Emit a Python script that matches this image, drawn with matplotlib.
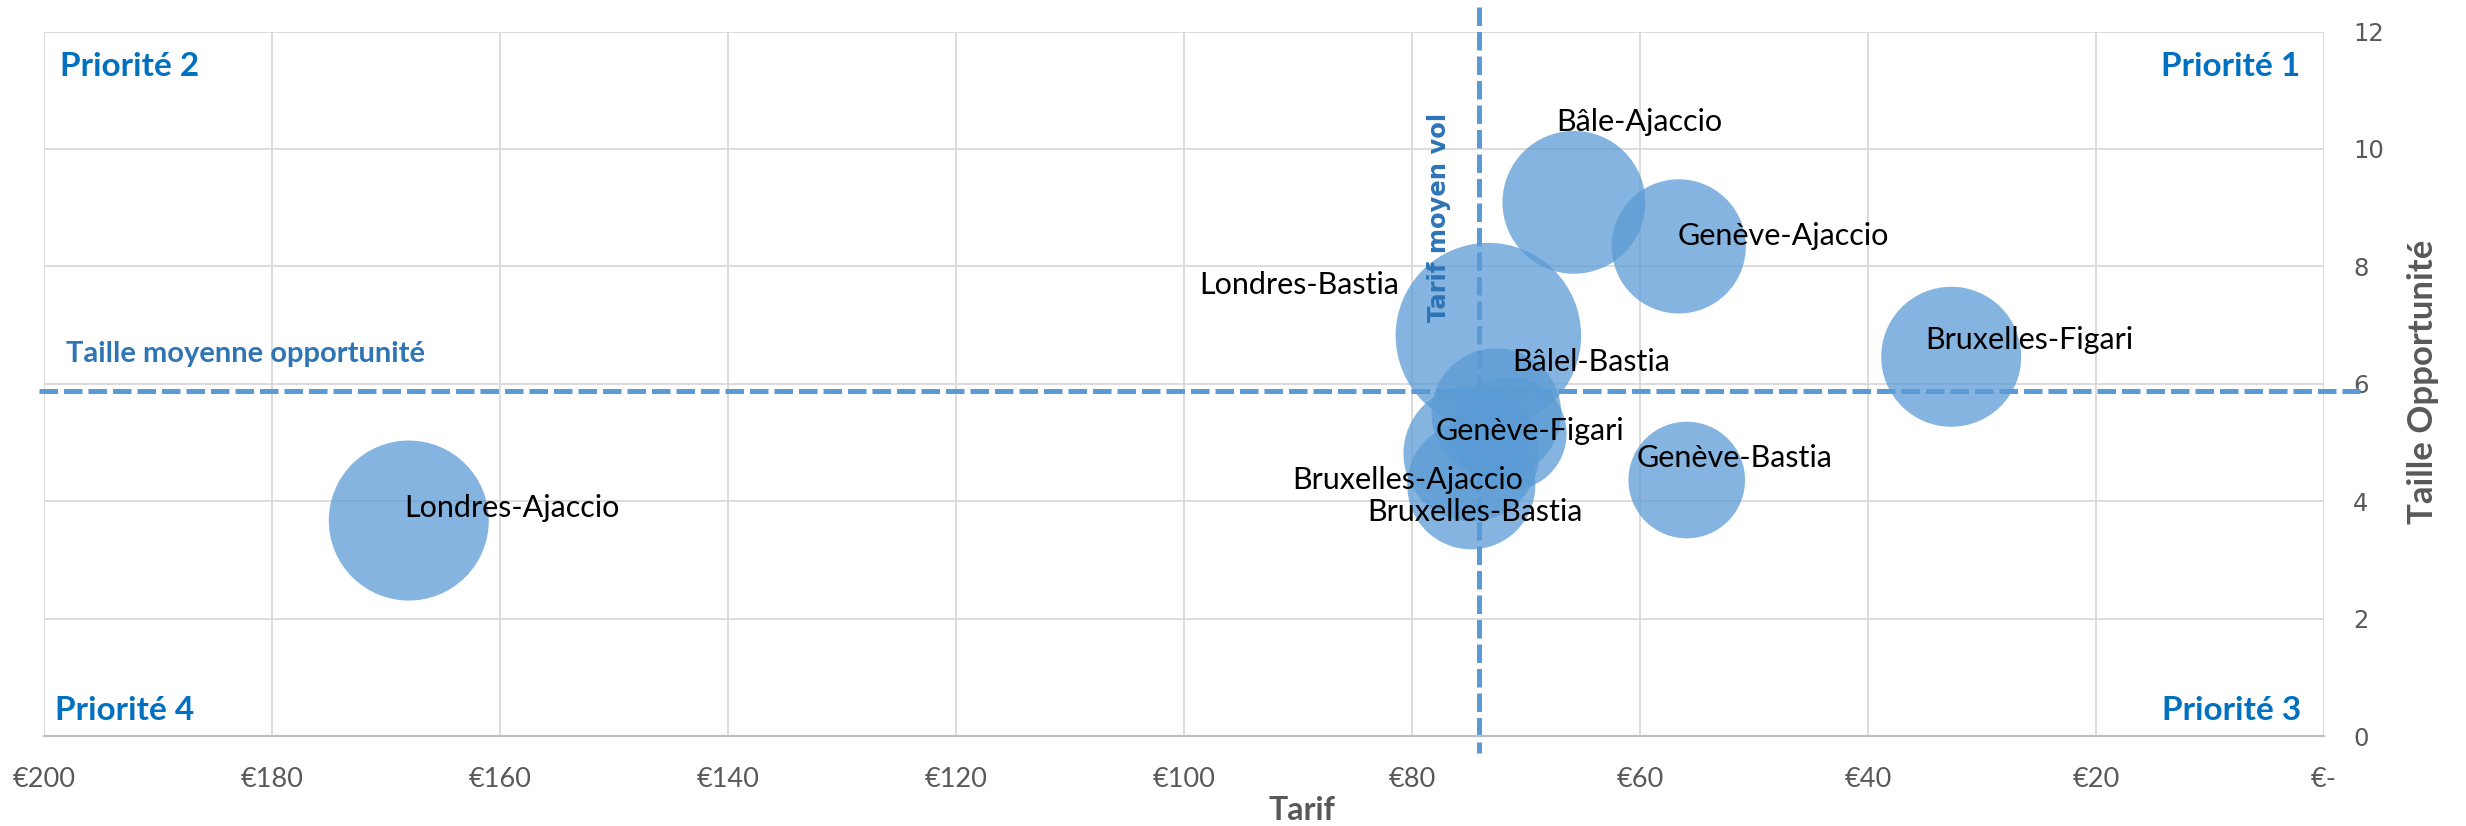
import matplotlib
matplotlib.use("Agg")
import matplotlib.pyplot as plt

# bubble data: tarif (EUR), taille opportunite, volume (bubble area)
routes = ["Londres-Ajaccio", "Londres-Bastia", "Bâle-Ajaccio", "Bâlel-Bastia",
          "Genève-Ajaccio", "Genève-Figari", "Genève-Bastia",
          "Bruxelles-Ajaccio", "Bruxelles-Bastia", "Bruxelles-Figari"]
tarif = [168.0, 73.3, 65.8, 72.6, 56.6, 71.4, 55.9, 74.8, 74.8, 32.7]
taille = [3.67, 6.82, 9.09, 5.50, 8.34, 5.15, 4.36, 4.81, 4.27, 6.46]
volume = [64, 86, 51, 42, 45, 32, 34, 46, 41, 49]

tarif_moyen = 74.1
taille_moyenne = 5.88

x_ticks = [200, 180, 160, 140, 120, 100, 80, 60, 40, 20, 0]
x_labels = ["€200", "€180", "€160", "€140", "€120", "€100", "€80", "€60", "€40", "€20", "€-"]
y_ticks = [0, 2, 4, 6, 8, 10, 12]

# label placement, pixel offsets from bubble centre (right, down) and alignment
label_pos = {
    "Londres-Ajaccio": (-5, -4, "left"),
    "Londres-Bastia": (-89, -42, "right"),
    "Bâle-Ajaccio": (-18, -71, "left"),
    "Bâlel-Bastia": (16, -42, "left"),
    "Genève-Ajaccio": (-1, -1, "left"),
    "Genève-Figari": (-74, 6, "left"),
    "Genève-Bastia": (-50, -13, "left"),
    "Bruxelles-Ajaccio": (52, 35, "right"),
    "Bruxelles-Bastia": (4, 36, "center"),
    "Bruxelles-Figari": (-26, -8, "left"),
}

W, H = 2466, 826
BLUE = "#5B9BD5"
DARK_BLUE = "#2E75B6"
PRIO = "#0070C0"
GREY = "#595959"
PX = 0.72  # points per pixel at dpi 100

plt.rcParams["font.family"] = ["Lato", "DejaVu Sans"]

fig = plt.figure(figsize=(W / 100, H / 100), dpi=100)
ax = fig.add_axes([44 / W, 1 - 736 / H, 2280 / W, 704.5 / H])

ax.set_xlim(200, 0)
ax.set_ylim(0, 12)
ax.set_xticks(x_ticks)
ax.set_xticklabels(x_labels)
ax.set_yticks(y_ticks)
ax.yaxis.tick_right()
ax.grid(True, color="#D9D9D9", linewidth=1.3, zorder=0)
ax.set_axisbelow(True)
for side in ["top", "left", "right"]:
    ax.spines[side].set_visible(False)
ax.spines["bottom"].set_color("#BFBFBF")
ax.spines["bottom"].set_linewidth(1.6)
ax.tick_params(axis="both", length=0)
ax.tick_params(axis="x", pad=22, labelsize=19.5, labelcolor=GREY)
ax.tick_params(axis="y", pad=21, labelsize=17.5, labelcolor=GREY)
for lab in ax.get_yticklabels():
    lab.set_fontfamily("DejaVu Sans")

# average lines
ax.plot([200.4, -3.2], [taille_moyenne, taille_moyenne], color=BLUE, lw=3.6,
        dashes=(3.7, 1.2), clip_on=False, zorder=2)
ax.plot([tarif_moyen, tarif_moyen], [12.41, -0.29], color=BLUE, lw=3.6,
        dashes=(3.7, 1.2), clip_on=False, zorder=2)

# bubbles
sizes = [v * 207.4 for v in volume]
ax.scatter(tarif, taille, s=sizes, color=BLUE, alpha=0.75, linewidths=0, zorder=3)

for name, x, y in zip(routes, tarif, taille):
    dx, dy, ha = label_pos[name]
    ax.annotate(name, (x, y), xytext=(dx * PX, -dy * PX), textcoords="offset points",
                ha=ha, va="baseline", fontsize=22, color="black", zorder=4)


def at(x, y):
    return x / W, 1 - y / H


fig.text(*at(60, 76), "Priorité 2", color=PRIO, fontsize=24, fontweight="bold",
         ha="left", va="baseline")
fig.text(*at(2300, 76), "Priorité 1", color=PRIO, fontsize=24, fontweight="bold",
         ha="right", va="baseline")
fig.text(*at(55, 720), "Priorité 4", color=PRIO, fontsize=24, fontweight="bold",
         ha="left", va="baseline")
fig.text(*at(2301, 720), "Priorité 3", color=PRIO, fontsize=24, fontweight="bold",
         ha="right", va="baseline")

fig.text(*at(66, 362), "Taille moyenne opportunité", color=DARK_BLUE, fontsize=21,
         fontweight="bold", ha="left", va="baseline")
fig.text(*at(1439, 217), "Tarif moyen vol", color=DARK_BLUE, fontsize=17.5,
         fontweight="bold", family="DejaVu Sans", rotation=90, ha="center", va="center")

fig.text(*at(1302, 811), "Tarif", color=GREY, fontsize=23, fontweight="bold",
         ha="center", va="center")
fig.text(*at(2423, 382), "Taille Opportunité", color=GREY, fontsize=25, fontweight="bold",
         rotation=90, ha="center", va="center")

fig.savefig("out.png", dpi=100)
